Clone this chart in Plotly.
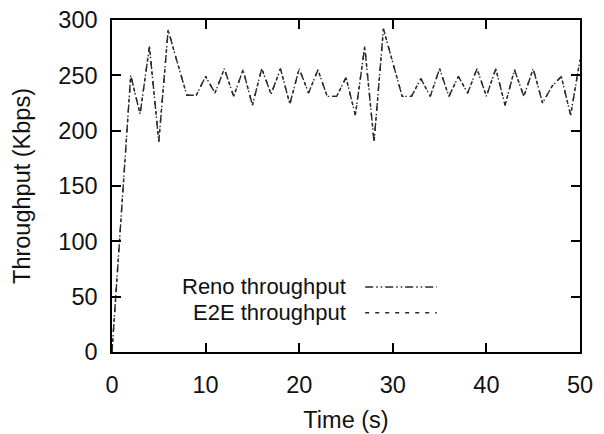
import plotly.graph_objects as go

time_s = list(range(0, 51))
reno_kbps = [0, 125, 250, 215, 276, 190, 291, 261, 232, 232,
             249, 234, 256, 231, 255, 223, 256, 233, 256, 224,
             256, 234, 255, 231, 231, 248, 214, 276, 190, 292,
             261, 231, 231, 247, 231, 256, 231, 249, 234, 256,
             231, 256, 223, 255, 231, 256, 225, 240, 249, 214,
             264]
e2e_kbps = list(reno_kbps)

x_ticks = [0, 10, 20, 30, 40, 50]
y_ticks = [0, 50, 100, 150, 200, 250, 300]
legend_labels = ["Reno throughput", "E2E throughput"]

FONT = "Liberation Sans, Arial, Helvetica, sans-serif"
LINE = "#2a2a2a"
RENO_DASH = "8px,3px,1.5px,3px,1.5px,3px"
E2E_DASH = "4px,6px"

fig = go.Figure()
fig.add_trace(go.Scatter(x=time_s, y=reno_kbps, mode="lines", name=legend_labels[0],
                         line=dict(color=LINE, width=1.4, dash=RENO_DASH)))
fig.add_trace(go.Scatter(x=time_s, y=e2e_kbps, mode="lines", name=legend_labels[1],
                         line=dict(color=LINE, width=1.4, dash=E2E_DASH)))

axis_common = dict(showline=True, linecolor="black", linewidth=1.5, mirror="ticks",
                   ticks="inside", ticklen=9, tickwidth=1.5, tickcolor="black",
                   showgrid=False, zeroline=False, automargin=False,
                   ticklabeloverflow="allow",
                   tickfont=dict(family=FONT, size=23.5, color="#111"))

fig.update_xaxes(range=[0, 50], tickvals=x_ticks, ticklabelstandoff=11,
                 title=dict(text="Time (s)", font=dict(family=FONT, size=23.5, color="#111"), standoff=15),
                 **axis_common)
fig.update_yaxes(range=[0, 300], tickvals=y_ticks, ticklabelstandoff=8,
                 title=dict(text="Throughput (Kbps)", font=dict(family=FONT, size=23.5, color="#111"), standoff=21),
                 **axis_common)

# gnuplot-style key: text right-aligned, sample line to the right
key_rows = [(0.196, legend_labels[0], RENO_DASH), (0.118, legend_labels[1], E2E_DASH)]
for yk, label, dash in key_rows:
    fig.add_annotation(xref="paper", yref="paper", x=0.504, y=yk, text=label,
                       showarrow=False, xanchor="right", yanchor="middle",
                       font=dict(family=FONT, size=22, color="#111"))
    fig.add_shape(type="line", xref="paper", yref="paper", x0=0.541, x1=0.694, y0=yk, y1=yk,
                  line=dict(color=LINE, width=1.4, dash=dash))

# page body has an 8px margin; size the figure so it fits the 604x434 window
fig.update_layout(width=596, height=426, showlegend=False,
                  margin=dict(l=104, r=24, t=12, b=82),
                  plot_bgcolor="white", paper_bgcolor="white",
                  font=dict(family=FONT, color="#111"))

fig.write_html("out.html")
